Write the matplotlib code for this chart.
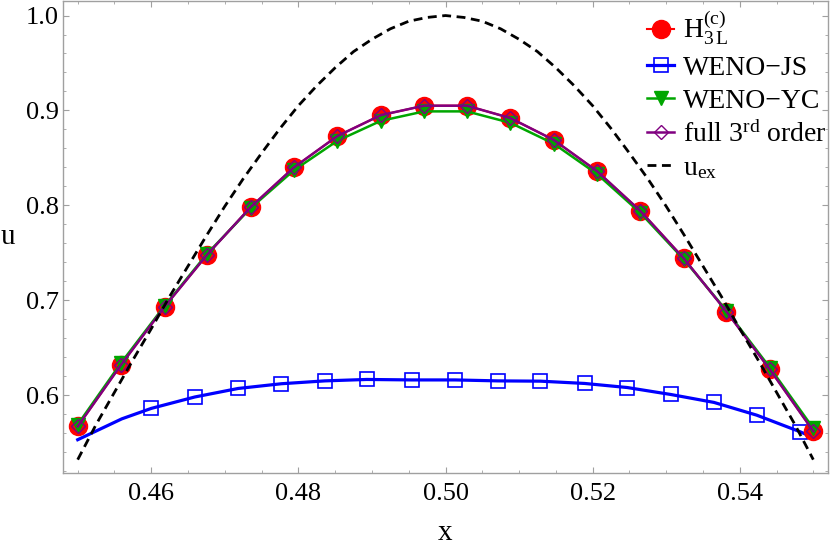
import matplotlib
matplotlib.use("Agg")
import matplotlib.pyplot as plt
from matplotlib.ticker import MultipleLocator

plt.rcParams["font.family"] = ["Liberation Serif", "DejaVu Serif"]
plt.rcParams["mathtext.fontset"] = "custom"
plt.rcParams["mathtext.rm"] = "Liberation Serif"
plt.rcParams["mathtext.it"] = "Liberation Serif:italic"

# cell positions for the third order schemes
xCells = [0.4500, 0.4559, 0.4618, 0.4676, 0.4735, 0.4794, 0.4853, 0.4912, 0.4971,
          0.5029, 0.5088, 0.5147, 0.5206, 0.5265, 0.5324, 0.5382, 0.5441, 0.5500]
uH3L = [0.567, 0.632, 0.693, 0.748, 0.798, 0.840, 0.873, 0.895, 0.905,
        0.905, 0.892, 0.869, 0.836, 0.794, 0.744, 0.688, 0.627, 0.562]
uYC = [0.569, 0.634, 0.694, 0.749, 0.797, 0.837, 0.868, 0.889, 0.899,
       0.899, 0.887, 0.865, 0.833, 0.792, 0.743, 0.689, 0.629, 0.565]
uFull3 = [0.567, 0.632, 0.693, 0.748, 0.798, 0.840, 0.873, 0.895, 0.905,
          0.905, 0.892, 0.869, 0.836, 0.794, 0.744, 0.688, 0.627, 0.562]

# WENO-JS: curve points, markers on all but the two first and the last
xJS = [0.4500, 0.4560, 0.4600, 0.4659, 0.4718, 0.4777, 0.4836, 0.4893, 0.4954, 0.5013,
       0.5071, 0.5129, 0.5189, 0.5247, 0.5306, 0.5365, 0.5423, 0.5482, 0.5492]
uJS = [0.553, 0.575, 0.586, 0.598, 0.607, 0.612, 0.615, 0.6165, 0.616, 0.616,
       0.615, 0.6147, 0.6123, 0.608, 0.6007, 0.5923, 0.5789, 0.5614, 0.558]

# exact solution
xEx = [0.4500, 0.4525, 0.4550, 0.4575, 0.4600, 0.4625, 0.4650, 0.4675, 0.4700, 0.4725,
       0.4750, 0.4775, 0.4800, 0.4825, 0.4850, 0.4875, 0.4900, 0.4925, 0.4950, 0.4975,
       0.5000, 0.5025, 0.5050, 0.5075, 0.5100, 0.5125, 0.5150, 0.5175, 0.5200, 0.5225,
       0.5250, 0.5275, 0.5300, 0.5325, 0.5350, 0.5375, 0.5400, 0.5425, 0.5450, 0.5475, 0.5500]
uEx = [0.532, 0.569, 0.603, 0.637, 0.670, 0.704, 0.736, 0.768, 0.799, 0.828,
       0.855, 0.881, 0.905, 0.926, 0.945, 0.962, 0.975, 0.986, 0.994, 0.998,
       1.000, 0.998, 0.994, 0.986, 0.975, 0.962, 0.945, 0.926, 0.905, 0.881,
       0.855, 0.828, 0.799, 0.768, 0.736, 0.704, 0.670, 0.637, 0.603, 0.569, 0.532]

labels = [r"$\mathrm{H}_{3\,\mathrm{L}}^{(\mathrm{c})}$", "WENO\u2212JS", "WENO\u2212YC",
          r"full 3$^{\mathrm{rd}}$ order", r"u$_{\mathrm{ex}}$"]

cRed = (1.0, 0.0, 0.0)
cBlue = (0.0, 0.0, 1.0)
cGreen = (0.0, 0.65, 0.0)
cPurple = (0.5, 0.0, 0.5)

fig = plt.figure(figsize=(8.3, 5.48), dpi=100)
ax = fig.add_axes([0.0759, 0.1363, 0.9217, 0.8627])

ax.plot(xCells, uH3L, color=cRed, lw=1.5, marker="o", ms=13, mec=cRed, mfc=cRed,
        label=labels[0], zorder=3)
ax.plot(xJS, uJS, color=cBlue, lw=2.3, marker="s", ms=10, mfc="none", mec=cBlue, mew=1.2,
        markevery=list(range(2, len(xJS) - 1)), label=labels[1], zorder=2)
ax.plot(xCells, uYC, color=cGreen, lw=1.8, marker="v", ms=9.5, mfc=cGreen, mec=cGreen,
        label=labels[2], zorder=4)
ax.plot(xCells, uFull3, color=cPurple, lw=1.8, marker="D", ms=7, mfc="none", mec=cPurple,
        mew=1.0, label=labels[3], zorder=5)
ax.plot(xEx, uEx, color="black", lw=2.0, ls=(0, (3.2, 2.0)), label=labels[4], zorder=6)

ax.set_xlim(0.448, 0.552)
ax.set_ylim(0.5176, 1.0158)

ax.xaxis.set_major_locator(MultipleLocator(0.02))
ax.xaxis.set_minor_locator(MultipleLocator(0.005))
ax.yaxis.set_major_locator(MultipleLocator(0.1))
ax.yaxis.set_minor_locator(MultipleLocator(0.02))
ax.xaxis.set_major_formatter(plt.FormatStrFormatter("%.2f"))
ax.yaxis.set_major_formatter(plt.FormatStrFormatter("%.1f"))

frameGray = "#a0a0a0"
for s in ax.spines.values():
    s.set_color(frameGray)
    s.set_linewidth(1.0)
ax.tick_params(which="both", direction="in", top=True, right=True, color=frameGray,
               labelsize=19, labelcolor="black")
ax.tick_params(which="major", length=4.5, width=0.8)
ax.tick_params(which="minor", length=2.4, width=0.6)
ax.tick_params(axis="x", pad=7)
ax.tick_params(axis="y", pad=3)

ax.set_xlabel("x", fontsize=21, labelpad=11)
ax.set_ylabel("u", fontsize=21, rotation=0, va="center", ha="center")
ax.yaxis.set_label_coords(-0.072, 0.5)

leg = ax.legend(loc="upper left", bbox_to_anchor=(0.763, 0.982), frameon=False,
                fontsize=20, handlelength=1.0, handletextpad=0.3, labelspacing=0.28,
                borderpad=0.0, borderaxespad=0.0)

fig.savefig("out.png", dpi=100)
